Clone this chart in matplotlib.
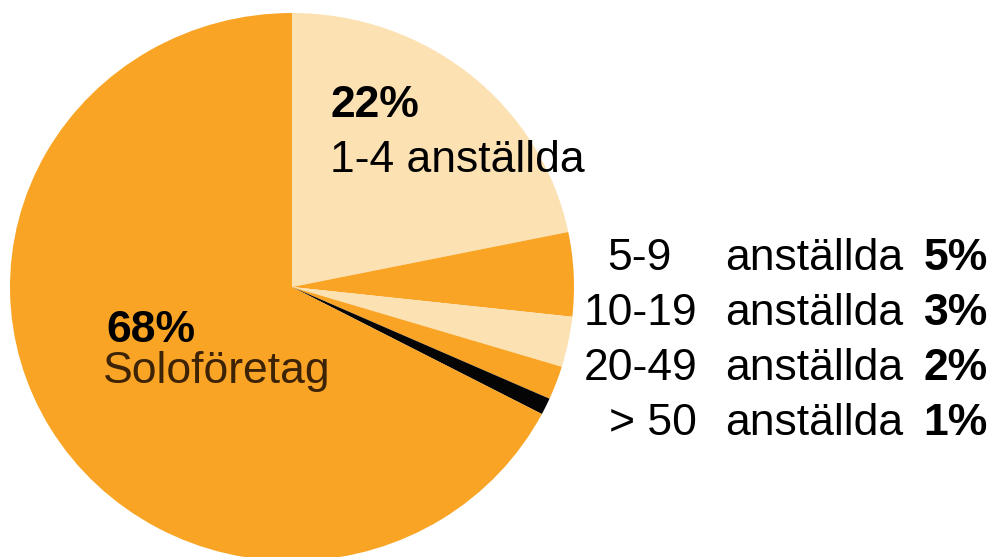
import matplotlib
matplotlib.use("Agg")
import matplotlib.pyplot as plt

# Data
groups = ["1-4 anställda", "5-9", "10-19", "20-49", "> 50", "Soloföretag"]
shares = [22, 5, 3, 2, 1, 68]
colors = ["#FCE1B3", "#F9A424", "#FCE1B3", "#F9A424", "#050505", "#F9A424"]

plt.rcParams['font.family'] = ['Liberation Sans', 'DejaVu Sans']

W, H = 996, 557
fig = plt.figure(figsize=(W / 100, H / 100), dpi=100)

# pie sits in its own axes, stretched a bit so it is slightly wider than tall
left, right, top, bottom = 10, 574, 13, 561
ax = fig.add_axes([left / W, 1 - bottom / H, (right - left) / W, (bottom - top) / H])
ax.pie(shares, colors=colors, startangle=90, counterclock=False, radius=1,
       wedgeprops=dict(linewidth=0))
ax.set_aspect('auto')
ax.set_xlim(-1, 1)
ax.set_ylim(-1, 1)
ax.axis('off')

# overlay in pixel coordinates for the texts
tx = fig.add_axes([0, 0, 1, 1])
tx.set_xlim(0, W)
tx.set_ylim(H, 0)
tx.axis('off')
tx.patch.set_alpha(0)

fs = 32
# largest slice labels inside the pie
tx.text(330, 117, f"{shares[0]}%", fontsize=fs, fontweight='bold', va='baseline', ha='left')
tx.text(330, 172, groups[0], fontsize=fs, va='baseline', ha='left')
tx.text(106, 342, f"{shares[-1]}%", fontsize=fs, fontweight='bold', va='baseline', ha='left')
tx.text(103, 383, groups[-1], fontsize=fs, color='#3D2306', va='baseline', ha='left')

# small slices listed to the right
range_x = [607, 697, 697, 697]
range_ha = ['left', 'right', 'right', 'right']
for i, (g, s) in enumerate(zip(groups[1:5], shares[1:5])):
    y = 270 + i * 55
    tx.text(range_x[i], y, g, fontsize=fs, va='baseline', ha=range_ha[i])
    tx.text(725, y, "anställda", fontsize=fs, va='baseline', ha='left')
    tx.text(988, y, f"{s}%", fontsize=fs, fontweight='bold', va='baseline', ha='right')

fig.savefig("out.png", dpi=100)
